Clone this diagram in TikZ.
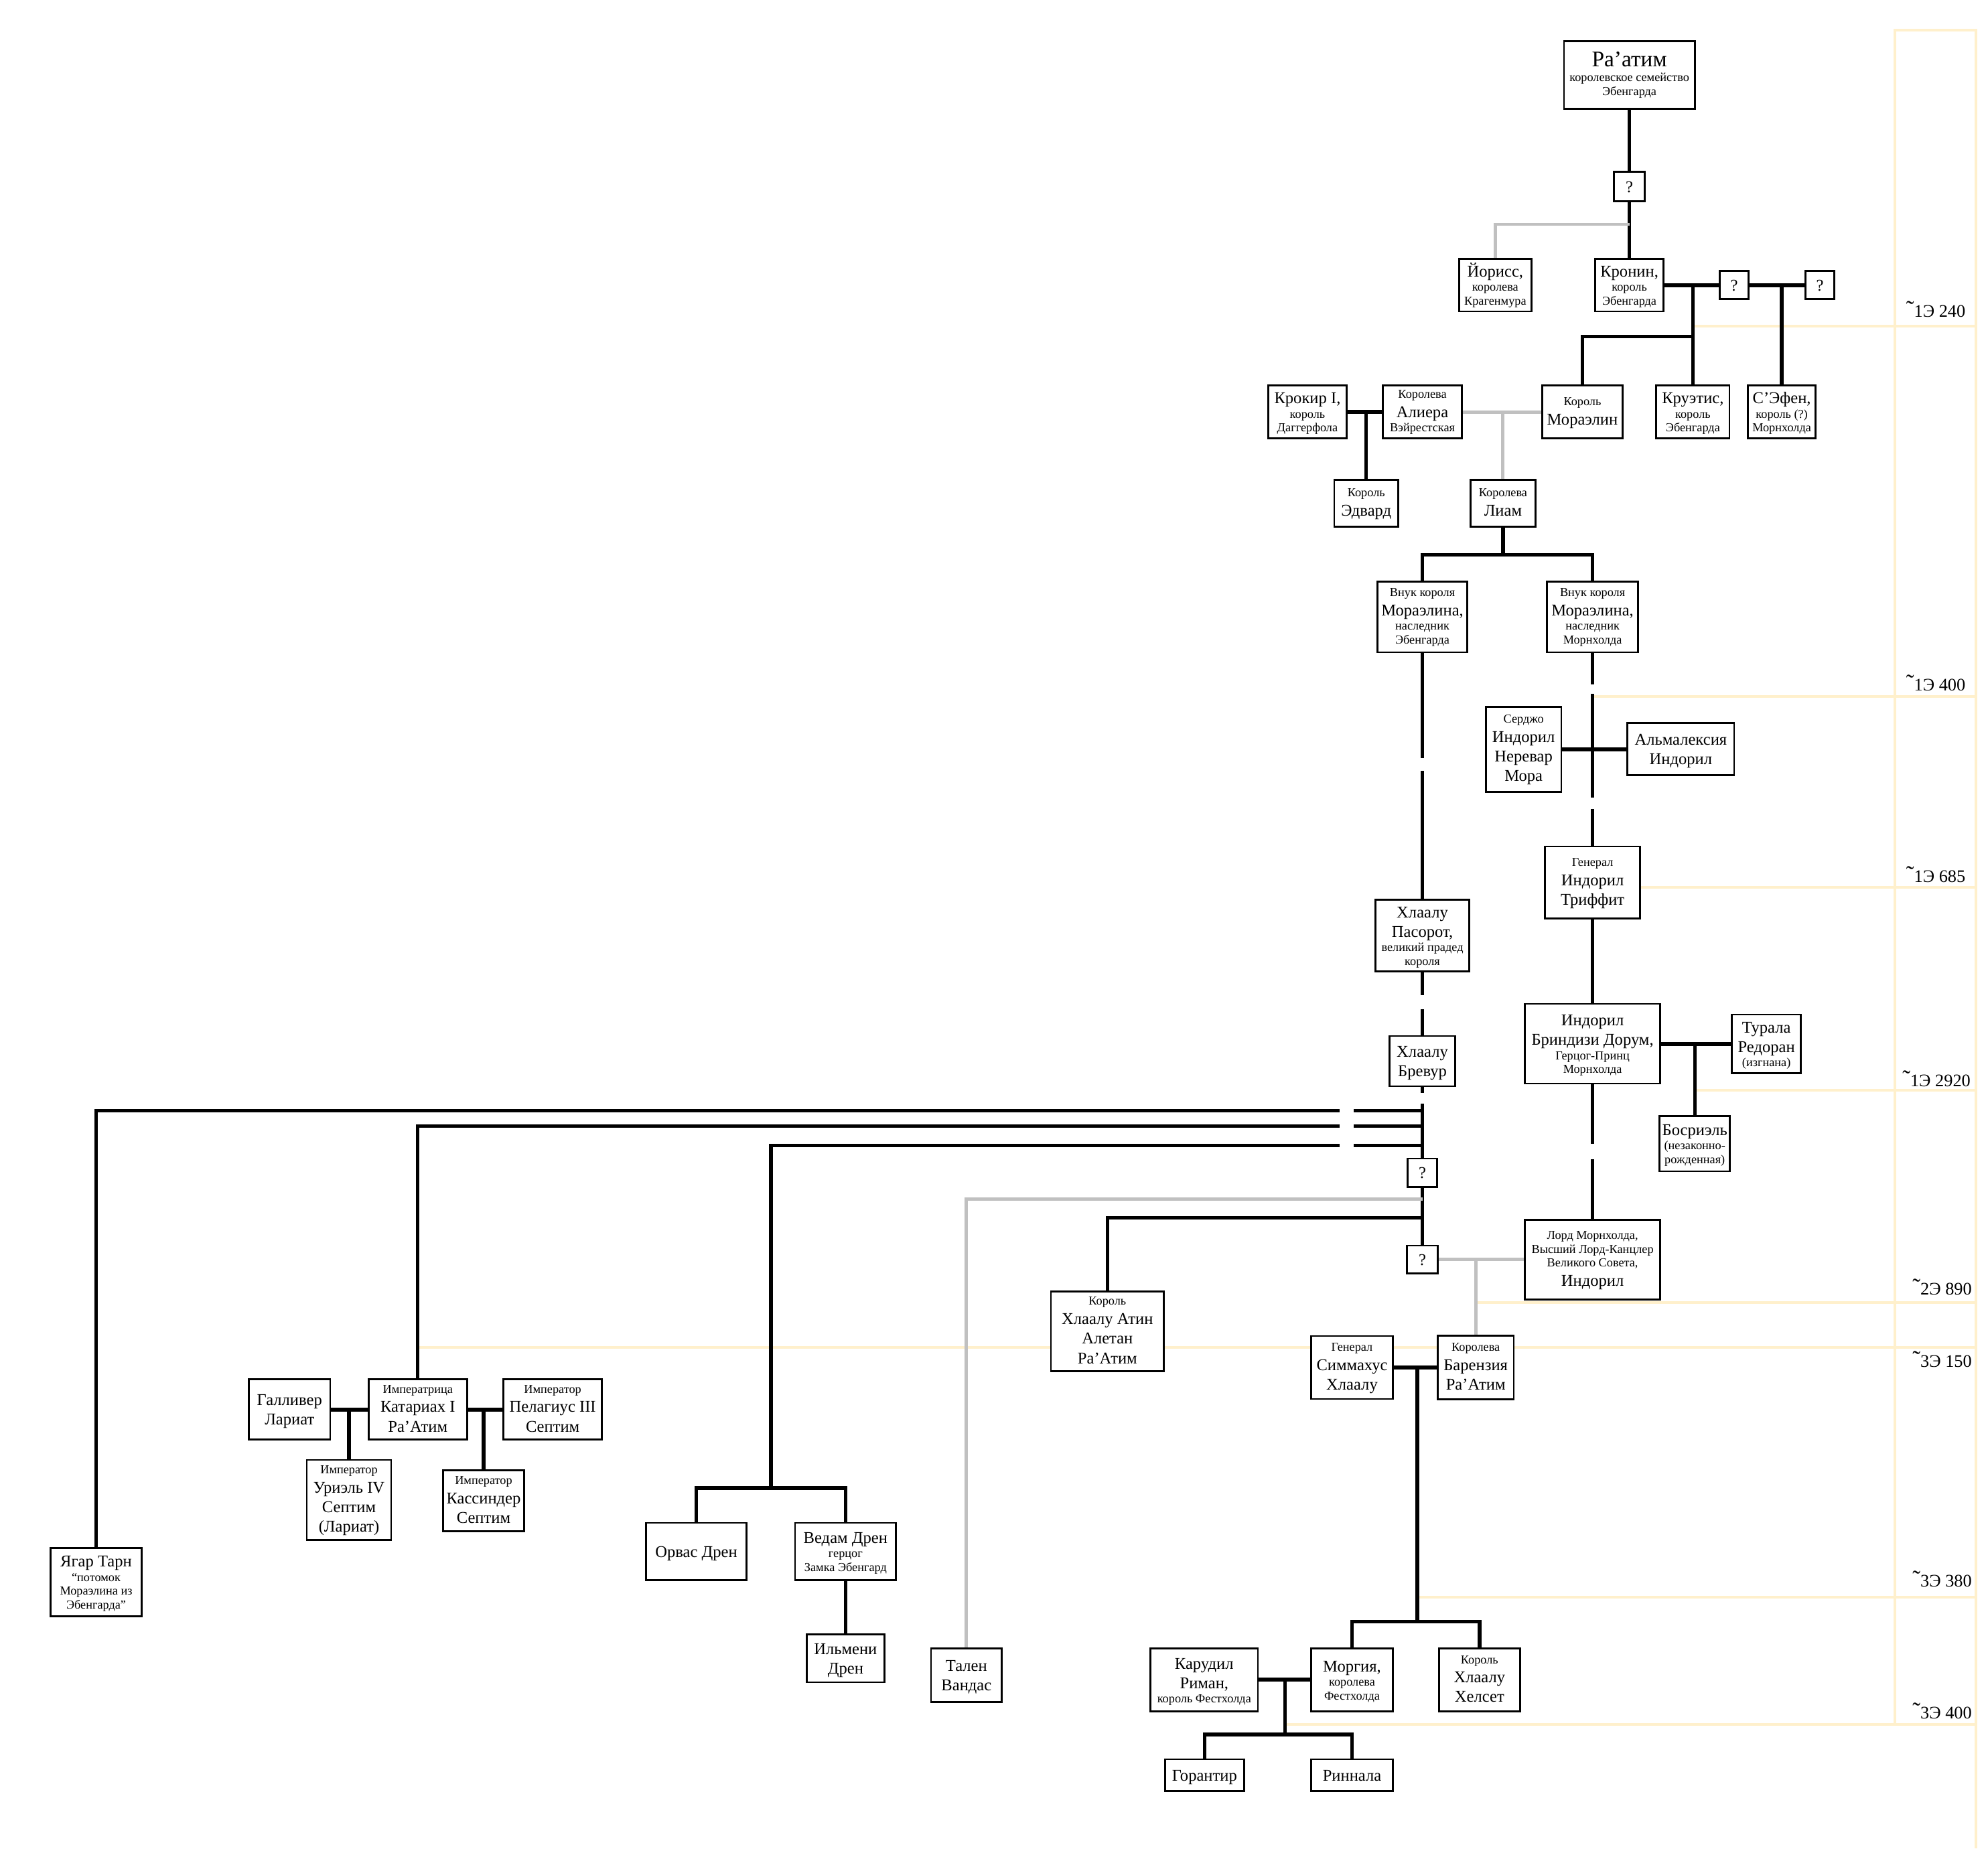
\documentclass[tikz,border=0pt]{standalone}
\usepackage{fontspec}
\setmainfont{Liberation Serif}
\usepackage{xcolor}
\usepackage{tikz}
\usetikzlibrary{calc,backgrounds,positioning}
\definecolor{cream}{RGB}{255,240,204}
\definecolor{halfgray}{RGB}{192,192,192}
\tikzset{
  person/.style 2 args={draw,line width=.8pt,fill=white,align=center,inner sep=0pt,
    font={\fontsize{5.2}{0pt}\selectfont\lineskip=0pt\lineskiplimit=0pt},
    minimum width=#1*0.01896cm,minimum height=#2*0.01896cm},
  kin/.style={line width=1.5pt},
  marry/.style={line width=1.7pt},
  half/.style={line width=1.4pt,draw=halfgray},
  eraline/.style={line width=1.1pt,draw=cream},
  era/.style={anchor=east,inner sep=0pt,font=\fontsize{7.5}{8}\selectfont}
}
\newcommand\Tt[1]{{\fontsize{9.5}{0pt}\selectfont\rule[-1.8pt]{0pt}{8.6pt}#1}}
\newcommand\Nm[1]{{\fontsize{7}{0pt}\selectfont\rule[-1.7pt]{0pt}{8.3pt}#1}}
\newcommand\Tl[1]{{\fontsize{5.2}{0pt}\selectfont\rule[-1.6pt]{0pt}{5.9pt}#1}}
\newcommand\Ap{{\fontsize{10}{10}\selectfont ˜}}

\begin{document}
\begin{tikzpicture}[x=0.01896cm,y=-0.01896cm]
  \useasboundingbox (0,0) rectangle (1565.4,1455.7);

  % Ра'атим и Кронин
  \node[person={103}{53}] (raatim) at (1283,59) {\Tt{Ра’атим}\\\Tl{королевское семейство}\\\Tl{Эбенгарда}};
  \node[person={24}{23}] (q1) at (1283,147) {\Nm{?}};
  \node[person={56.7}{41.6}] (yoriss) at (1177.4,224.5) {\Nm{Йорисс,}\\\Tl{королева}\\\Tl{Крагенмура}};
  \node[person={54}{41.6}] (kronin) at (1283,224.5) {\Nm{Кронин,}\\\Tl{король}\\\Tl{Эбенгарда}};
  \node[person={23}{22.4}] (q2) at (1365.5,224.5) {\Nm{?}};
  \node[person={23}{22.4}] (q3) at (1433,224.5) {\Nm{?}};
  \node[person={62}{42}] (krokir) at (1029.5,324.4) {\Nm{Крокир I,}\\\Tl{король}\\\Tl{Даггерфола}};
  \node[person={62}{42}] (aliera) at (1120,324.4) {\Tl{Королева}\\\Nm{Алиера}\\\Tl{Вэйрестская}};
  \node[person={63}{42}] (moraelin) at (1246,324.4) {\Tl{Король}\\\Nm{Мораэлин}};
  \node[person={57.5}{42}] (kruetis) at (1333,324.4) {\Nm{Круэтис,}\\\Tl{король}\\\Tl{Эбенгарда}};
  \node[person={53.4}{42}] (sefen) at (1403,324.4) {\Nm{С’Эфен,}\\\Tl{король (?)}\\\Tl{Морнхолда}};
  \node[person={50.4}{37}] (edvard) at (1075.8,396.5) {\Tl{Король}\\\Nm{Эдвард}};
  \node[person={51}{37}] (liam) at (1183.5,396.5) {\Tl{Королева}\\\Nm{Лиам}};
  \node[person={71}{55.7}] (g1) at (1120,485.9) {\Tl{Внук короля}\\\Nm{Мораэлина,}\\\Tl{наследник}\\\Tl{Эбенгарда}};
  \node[person={71.6}{55.7}] (g2) at (1254,485.9) {\Tl{Внук короля}\\\Nm{Мораэлина,}\\\Tl{наследник}\\\Tl{Морнхолда}};

  % Индорил
  \node[person={59.5}{67}] (serjo) at (1199.7,590) {\Tl{Серджо}\\\Nm{Индорил}\\\Nm{Неревар}\\\Nm{Мора}};
  \node[person={84}{41.4}] (almalexia) at (1323.5,590) {\Nm{Альмалексия}\\\Nm{Индорил}};
  \node[person={74.6}{56.8}] (triffit) at (1254,695.1) {\Tl{Генерал}\\\Nm{Индорил}\\\Nm{Триффит}};
  \node[person={106.4}{62.7}] (brindisi) at (1254,822) {\Nm{Индорил}\\\Nm{Бриндизи Дорум,}\\\Tl{Герцог-Принц}\\\Tl{Морнхолда}};
  \node[person={54.3}{46}] (turala) at (1390.9,822) {\Nm{Турала}\\\Nm{Редоран}\\\Tl{(изгнана)}};
  \node[person={55.5}{43.5}] (bosriel) at (1334.5,900.7) {\Nm{Босриэль}\\\Tl{(незаконно-}\\\Tl{рожденная)}};
  \node[person={106.4}{63}] (lord) at (1254,992) {\Tl{Лорд Морнхолда,}\\\Tl{Высший Лорд-Канцлер}\\\Tl{Великого Совета,}\\\Nm{Индорил}};

  % Хлаалу
  \node[person={74}{56.6}] (pasorot) at (1120,736.7) {\Nm{Хлаалу}\\\Nm{Пасорот,}\\\Tl{великий прадед}\\\Tl{короля}};
  \node[person={51.5}{39.5}] (brevur) at (1120,835.7) {\Nm{Хлаалу}\\\Nm{Бревур}};
  \node[person={23.4}{22.5}] (q4) at (1120,923.7) {\Nm{?}};
  \node[person={24}{22}] (q5) at (1120,992) {\Nm{?}};
  \node[person={89}{63}] (atin) at (872,1048.5) {\Tl{Король}\\\Nm{Хлаалу Атин}\\\Nm{Алетан}\\\Nm{Ра’Атим}};
  \node[person={64}{49.6}] (symmachus) at (1064.6,1077) {\Tl{Генерал}\\\Nm{Симмахус}\\\Nm{Хлаалу}};
  \node[person={60}{50}] (barenzia) at (1162,1077) {\Tl{Королева}\\\Nm{Барензия}\\\Nm{Ра’Атим}};
  \node[person={84.5}{49.5}] (karudil) at (948.2,1323) {\Nm{Карудил}\\\Nm{Риман,}\\\Tl{король Фестхолда}};
  \node[person={64}{49.5}] (morgia) at (1064.6,1323) {\Nm{Моргия,}\\\Tl{королева}\\\Tl{Фестхолда}};
  \node[person={64}{49.5}] (helseth) at (1165,1323) {\Tl{Король}\\\Nm{Хлаалу}\\\Nm{Хелсет}};
  \node[person={62}{25}] (gorantir) at (948.5,1398) {\Nm{Горантир}};
  \node[person={64}{25}] (rinnala) at (1064.6,1398) {\Nm{Риннала}};

  % Септимы и Дрены
  \node[person={71.4}{54}] (yagar) at (75.7,1246) {\Nm{Ягар Тарн}\\\Tl{“потомок}\\\Tl{Мораэлина из}\\\Tl{Эбенгарда”}};
  \node[person={64}{47.5}] (galliver) at (228,1110) {\Nm{Галливер}\\\Nm{Лариат}};
  \node[person={77.4}{47.5}] (katariah) at (329,1110) {\Tl{Императрица}\\\Nm{Катариах I}\\\Nm{Ра’Атим}};
  \node[person={77.5}{47.5}] (pelagius) at (435.2,1110) {\Tl{Император}\\\Nm{Пелагиус III}\\\Nm{Септим}};
  \node[person={66.4}{62.8}] (uriel) at (274.8,1181.2) {\Tl{Император}\\\Nm{Уриэль IV}\\\Nm{Септим}\\\Nm{(Лариат)}};
  \node[person={64}{47.7}] (cassynder) at (380.8,1182) {\Tl{Император}\\\Nm{Кассиндер}\\\Nm{Септим}};
  \node[person={79.4}{45.2}] (orvas) at (548.3,1222) {\Nm{Орвас Дрен}};
  \node[person={79.6}{45.2}] (vedam) at (665.8,1222) {\Nm{Ведам Дрен}\\\Tl{герцог}\\\Tl{Замка Эбенгард}};
  \node[person={61.4}{37.7}] (ilmeni) at (665.8,1306) {\Nm{Ильмени}\\\Nm{Дрен}};
  \node[person={55.7}{42.5}] (talen) at (761,1319.3) {\Nm{Тален}\\\Nm{Вандас}};

  % эпохи
  \node[era] (e240) at (1548,243.5) {\Ap1Э 240};
  \node[era] (e400) at (1548,538) {\Ap1Э 400};
  \node[era] (e685) at (1548,688.5) {\Ap1Э 685};
  \node[era] (e2920) at (1552,849.5) {\Ap1Э 2920};
  \node[era] (e890) at (1553,1013.7) {\Ap2Э 890};
  \node[era] (e150) at (1553,1070.5) {\Ap3Э 150};
  \node[era] (e380) at (1553,1243.7) {\Ap3Э 380};
  \node[era] (e3400) at (1553,1347.4) {\Ap3Э 400};

  % связи
  \draw[kin] (raatim) -- (q1);
  \draw[kin] (q1) -- (kronin);
  \coordinate (jy) at (1283,176.7);
  \draw[half] (jy) -| (yoriss);
  \draw[marry] (kronin) -- (q2);
  \draw[marry] (q2) -- (q3);
  \coordinate (kc) at (1333,265);
  \draw[kin] (kruetis) -- (kruetis |- kronin.east);
  \draw[kin] (moraelin) |- (kc);
  \draw[kin] (sefen) -- (sefen |- q3.west);
  \draw[marry] (krokir) -- (aliera);
  \draw[kin] (edvard) -- (edvard |- krokir.east);
  \draw[half] (aliera) -- (moraelin);
  \draw[half] (liam) -- (liam |- aliera.east);
  \coordinate (lc) at (1183.5,436.8);
  \draw[kin] (liam) -- (lc);
  \draw[kin] (g1) |- (lc) -| (g2);

  \draw[kin] (g2) -- (triffit);
  \draw[marry] (serjo) -- (almalexia);
  \draw[kin] (triffit) -- (brindisi);
  \draw[marry] (brindisi) -- (turala);
  \draw[kin] (bosriel) -- (bosriel |- turala.west);
  \draw[kin] (brindisi) -- (lord);

  \draw[kin] (g1) -- (pasorot);
  \draw[kin] (pasorot) -- (brevur);
  \draw[kin] (brevur) -- (q4);
  \draw[kin] (q4) -- (q5);
  \foreach \n/\y in {h1/874.6,h2/887,h3/902,h4/944.5,h5/959}
    \coordinate (\n) at (1120,\y);
  \draw[kin] (h1) -| (yagar);
  \draw[kin] (h2) -| (katariah);
  \coordinate (dr) at (607,1172);
  \draw[kin] (h3) -| (dr);
  \draw[kin] (orvas) |- (dr) -| (vedam);
  \draw[kin] (vedam) -- (ilmeni);
  \draw[half] (h4) -| (talen);
  \draw[kin] (h5) -| (atin);
  \draw[half] (q5) -- (lord);
  \draw[half] (barenzia) -- (barenzia |- q5.east);

  \draw[marry] (symmachus) -- (barenzia);
  \coordinate (bc) at (1116,1277);
  \draw[kin] (bc |- symmachus.east) -- (bc);
  \draw[kin] (morgia) |- (bc) -| (helseth);
  \draw[marry] (karudil) -- (morgia);
  \coordinate (mc) at (1011.7,1366);
  \draw[kin] (mc |- karudil.east) -- (mc);
  \draw[kin] (gorantir) |- (mc) -| (rinnala);

  \draw[marry] (galliver) -- (katariah);
  \draw[kin] (uriel) -- (uriel |- galliver.east);
  \draw[marry] (katariah) -- (pelagius);
  \draw[kin] (cassynder) -- (cassynder |- katariah.east);

  % разрывы линий
  \foreach \x/\a/\b in {1120/597/607,1120/784/795,1120/861/869,1254/539/546.5,1254/628/637,1254/901/913}
    \fill[white] ({\x-5},\a) rectangle ({\x+5},\b);
  \fill[white] (1055,868) rectangle (1066,908);

  \begin{pgfonlayer}{background}
    \draw[eraline] (1492,1358) -- (1492,23.7) -- (1556,23.7) -- (1556,1455.7);
    \foreach \y/\x in {257/1333,548.4/1254,699/1254,858.7/1335,1026/1162,1061/329,1258/1116,1358/1011.7}
      \draw[eraline] (\x,\y) -- (1556,\y);
  \end{pgfonlayer}
\end{tikzpicture}
\end{document}
